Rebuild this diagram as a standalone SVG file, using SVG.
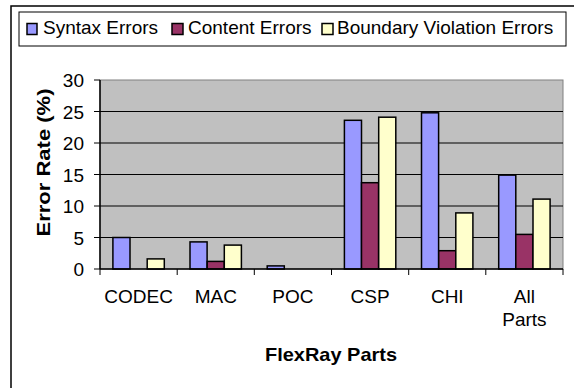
<svg xmlns="http://www.w3.org/2000/svg" width="574" height="388" viewBox="0 0 574 388">
<style>
text{font-family:"Liberation Sans",Arial,sans-serif;font-size:19px;fill:#000}
.b{font-weight:bold}
.s1{fill:#9999FF;stroke:#000;stroke-width:1.5}
.s2{fill:#993366;stroke:#000;stroke-width:1.5}
.s3{fill:#FFFFCC;stroke:#000;stroke-width:1.5}
.grid{stroke:#000;stroke-width:1}
.tick{stroke:#000;stroke-width:1}
.yl{text-anchor:end}
.xl{text-anchor:middle}
</style>
<rect x="0" y="0" width="574" height="388" fill="#fff"/>
<rect x="11" y="6" width="620" height="420" fill="none" stroke="#000" stroke-width="1.5"/>
<g id="legend">
<rect x="19" y="12" width="547" height="34" fill="#fff" stroke="#000" stroke-width="1"/>
<g id="legend-syntax"><rect class="s1" x="27" y="23.5" width="10" height="11" stroke-width="1"/><text x="43" y="34">Syntax Errors</text></g>
<g id="legend-content"><rect class="s2" x="172" y="23.5" width="11" height="11" stroke-width="1"/><text x="188" y="34">Content Errors</text></g>
<g id="legend-boundary"><rect class="s3" x="322" y="23.5" width="11" height="11" stroke-width="1"/><text x="337" y="34">Boundary Violation Errors</text></g>
</g>
<g id="plot">
<rect x="100" y="80" width="463" height="189" fill="#C0C0C0" stroke="#808080" stroke-width="1"/>
<g class="grid">
<line x1="100" y1="111.5" x2="563" y2="111.5"/>
<line x1="100" y1="143" x2="563" y2="143"/>
<line x1="100" y1="174.5" x2="563" y2="174.5"/>
<line x1="100" y1="206" x2="563" y2="206"/>
<line x1="100" y1="237.5" x2="563" y2="237.5"/>
</g>
</g>
<g id="bars">
<g id="syntax">
<rect class="s1" x="112.9" y="237.5" width="17.1" height="31.5"/>
<rect class="s1" x="190" y="241.9" width="17.1" height="27.1"/>
<rect class="s1" x="267.2" y="265.9" width="17.1" height="3.1"/>
<rect class="s1" x="344.4" y="120.3" width="17.1" height="148.7"/>
<rect class="s1" x="421.5" y="112.8" width="17.1" height="156.2"/>
<rect class="s1" x="498.7" y="175.1" width="17.1" height="93.9"/>
</g>
<g id="content">
<rect class="s2" x="207.2" y="261.4" width="17.1" height="7.6"/>
<rect class="s2" x="361.5" y="182.7" width="17.1" height="86.3"/>
<rect class="s2" x="438.7" y="250.7" width="17.1" height="18.3"/>
<rect class="s2" x="515.8" y="234.4" width="17.1" height="34.6"/>
</g>
<g id="boundary">
<rect class="s3" x="147.2" y="258.9" width="17.1" height="10.1"/>
<rect class="s3" x="224.3" y="245.1" width="17.1" height="23.9"/>
<rect class="s3" x="378.7" y="117.2" width="17.1" height="151.8"/>
<rect class="s3" x="455.8" y="212.9" width="17.1" height="56.1"/>
<rect class="s3" x="533" y="199.1" width="17.1" height="69.9"/>
</g>
</g>
<g id="axes">
<line x1="100" y1="80" x2="100" y2="269" stroke="#000" stroke-width="1.5"/>
<line x1="100" y1="269" x2="563" y2="269" stroke="#000" stroke-width="1.5"/>
<g class="tick">
<line x1="94" y1="80" x2="100" y2="80"/>
<line x1="94" y1="111.5" x2="100" y2="111.5"/>
<line x1="94" y1="143" x2="100" y2="143"/>
<line x1="94" y1="174.5" x2="100" y2="174.5"/>
<line x1="94" y1="206" x2="100" y2="206"/>
<line x1="94" y1="237.5" x2="100" y2="237.5"/>
<line x1="94" y1="269" x2="100" y2="269"/>
<line x1="100" y1="269" x2="100" y2="275"/>
<line x1="177.2" y1="269" x2="177.2" y2="275"/>
<line x1="254.3" y1="269" x2="254.3" y2="275"/>
<line x1="331.5" y1="269" x2="331.5" y2="275"/>
<line x1="408.7" y1="269" x2="408.7" y2="275"/>
<line x1="485.8" y1="269" x2="485.8" y2="275"/>
<line x1="563" y1="269" x2="563" y2="275"/>
</g>
<g id="y-labels">
<text class="yl" x="84" y="87">30</text>
<text class="yl" x="84" y="118.5">25</text>
<text class="yl" x="84" y="150">20</text>
<text class="yl" x="84" y="181.5">15</text>
<text class="yl" x="84" y="213">10</text>
<text class="yl" x="84" y="244.5">5</text>
<text class="yl" x="84" y="276">0</text>
</g>
<g id="x-labels">
<text class="xl" x="138.6" y="303">CODEC</text>
<text class="xl" x="215.8" y="303">MAC</text>
<text class="xl" x="292.9" y="303">POC</text>
<text class="xl" x="370.1" y="303">CSP</text>
<text class="xl" x="447.3" y="303">CHI</text>
<text class="xl" x="524.4" y="303">All</text>
<text class="xl" x="524.4" y="326">Parts</text>
</g>
<text class="b xl" x="331" y="361" textLength="132" lengthAdjust="spacingAndGlyphs">FlexRay Parts</text>
<text class="b xl" transform="translate(49.5,162.5) rotate(-90)" x="0" y="0" textLength="148" lengthAdjust="spacingAndGlyphs">Error Rate (%)</text>
</g>
</svg>
